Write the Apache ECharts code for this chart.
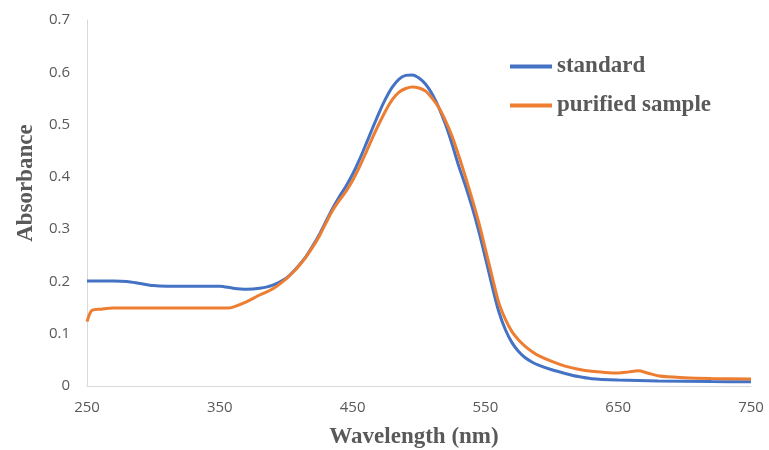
<!DOCTYPE html>
<html>
<head>
<meta charset="utf-8">
<script src="https://cdn.jsdelivr.net/npm/echarts@6/dist/echarts.min.js"></script>
<style>html,body{margin:0;padding:0;background:#fff}#c{width:769px;height:450px}</style>
</head>
<body>
<div id="c"></div>
<script>
const xTicks = [250, 350, 450, 550, 650, 750];
const yTicks = [0, 0.1, 0.2, 0.3, 0.4, 0.5, 0.6, 0.7];
const standardX = [250,260,270,280,290,300,310,320,330,340,350,360,370,380,390,400,405,410,415,420,425,430,435,440,445,450,455,460,465,470,475,480,485,490,495,500,505,510,515,520,525,530,535,540,545,550,555,560,565,570,575,580,585,590,600,610,620,630,650,680,720,750];
const standardY = [0.201,0.201,0.201,0.2,0.196,0.192,0.191,0.191,0.191,0.191,0.191,0.187,0.185,0.187,0.193,0.206,0.218,0.232,0.248,0.268,0.29,0.315,0.34,0.362,0.382,0.405,0.432,0.462,0.493,0.523,0.55,0.572,0.587,0.594,0.595,0.589,0.577,0.558,0.532,0.5,0.462,0.42,0.383,0.342,0.296,0.245,0.192,0.143,0.108,0.083,0.066,0.054,0.046,0.04,0.031,0.024,0.018,0.014,0.0115,0.0096,0.0085,0.008];
const purifiedX = [250,252,254,260,270,280,290,300,310,320,330,340,350,356,360,370,380,390,400,405,410,415,420,425,430,435,440,445,450,455,460,465,470,475,480,485,490,495,500,505,510,515,520,525,530,535,540,545,550,555,560,565,570,575,580,585,590,600,610,620,630,640,650,658,665,672,681,700,720,750];
const purifiedY = [0.123,0.138,0.145,0.147,0.149,0.149,0.149,0.149,0.149,0.149,0.149,0.149,0.149,0.149,0.151,0.161,0.174,0.186,0.205,0.217,0.231,0.247,0.266,0.287,0.312,0.336,0.355,0.372,0.393,0.418,0.446,0.475,0.502,0.527,0.548,0.562,0.569,0.572,0.57,0.564,0.55,0.532,0.507,0.477,0.44,0.4,0.358,0.313,0.262,0.21,0.16,0.128,0.104,0.088,0.076,0.066,0.058,0.047,0.038,0.032,0.028,0.026,0.025,0.027,0.029,0.025,0.019,0.016,0.0145,0.0134];
const seriesNames = ['standard', 'purified sample'];

const zip = (xs, ys) => xs.map((x, i) => [x, ys[i]]);
const chart = echarts.init(document.getElementById('c'), null, {renderer: 'canvas'});
const gray = '#595959';
const titleFont = {fontFamily: 'Liberation Serif', fontWeight: 'bold', fontSize: 23, color: gray};
chart.setOption({
  animation: false,
  backgroundColor: '#fff',
  grid: {left: 87, right: 18, top: 20, bottom: 64, containLabel: false, outerBoundsMode: 'none'},
  legend: {
    orient: 'vertical', left: 510, top: 55, itemGap: 16, padding: 0,
    itemWidth: 42, itemHeight: 4, icon: 'rect',
    textStyle: titleFont,
    data: seriesNames
  },
  xAxis: {
    type: 'value', min: xTicks[0], max: xTicks[xTicks.length - 1], interval: 100,
    name: 'Wavelength (nm)', nameLocation: 'middle', nameGap: 40,
    nameTextStyle: Object.assign({}, titleFont, {padding: [0, 10, 0, 0]}),
    axisLine: {lineStyle: {color: '#d9d9d9', width: 1}},
    axisTick: {show: false},
    splitLine: {show: false},
    axisLabel: {margin: 14, fontFamily: 'Open Sans', fontSize: 15, color: gray}
  },
  yAxis: {
    type: 'value', min: yTicks[0], max: yTicks[yTicks.length - 1], interval: 0.1,
    name: 'Absorbance', nameLocation: 'middle', nameGap: 48,
    nameTextStyle: Object.assign({}, titleFont, {padding: [0, 0, 0, 40]}),
    axisLine: {show: true, lineStyle: {color: '#d9d9d9', width: 1}},
    axisTick: {show: false},
    splitLine: {show: false},
    axisLabel: {margin: 17, fontFamily: 'Open Sans', fontSize: 15, color: gray,
      formatter: v => String(Math.round(v * 10) / 10)}
  },
  series: [
    {name: seriesNames[0], type: 'line', data: zip(standardX, standardY), smooth: 0.3, showSymbol: false, symbol: 'none',
     lineStyle: {color: '#4472C4', width: 3}, itemStyle: {color: '#4472C4'}},
    {name: seriesNames[1], type: 'line', data: zip(purifiedX, purifiedY), smooth: 0.3, showSymbol: false, symbol: 'none',
     lineStyle: {color: '#ED7D31', width: 3}, itemStyle: {color: '#ED7D31'}}
  ]
});
</script>
</body>
</html>
